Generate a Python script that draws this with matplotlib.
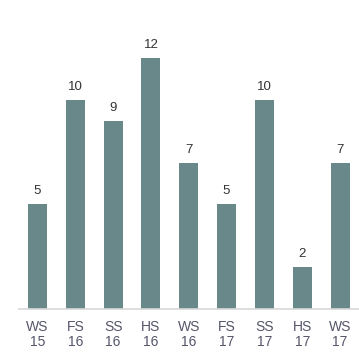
import matplotlib
matplotlib.use("Agg")
import matplotlib.pyplot as plt

semesters = ["WS\n15", "FS\n16", "SS\n16", "HS\n16", "WS\n16", "FS\n17", "SS\n17", "HS\n17", "WS\n17"]
counts = [5, 10, 9, 12, 7, 5, 10, 2, 7]

plt.rcParams['font.family'] = ['Liberation Sans', 'DejaVu Sans']

fig = plt.figure(figsize=(3.59, 3.59), dpi=100)
ax = fig.add_axes([18.5 / 359, 50 / 359, 340.5 / 359, 309 / 359])

x = range(len(counts))
bars = ax.bar(x, counts, width=0.5, color="#688889")
for b, v in zip(bars, counts):
    ax.annotate(str(v), (b.get_x() + b.get_width() / 2, v), xytext=(0, 5),
                textcoords="offset points", ha="center", va="bottom",
                fontsize=9.5, color="#333333")

ax.set_xlim(-0.5, len(counts) - 0.5)
ax.set_ylim(0, 309 / 251 * 12)
ax.set_xticks(list(x))
ax.set_xticklabels(semesters, fontsize=10, color="#55556a", linespacing=1.05)
ax.tick_params(axis="x", length=0, pad=8)
ax.set_yticks([])
for s in ["top", "right", "left"]:
    ax.spines[s].set_visible(False)
ax.spines["bottom"].set_color("#d8d8d8")
ax.spines["bottom"].set_linewidth(1.2)

fig.savefig("out.png", dpi=100)
